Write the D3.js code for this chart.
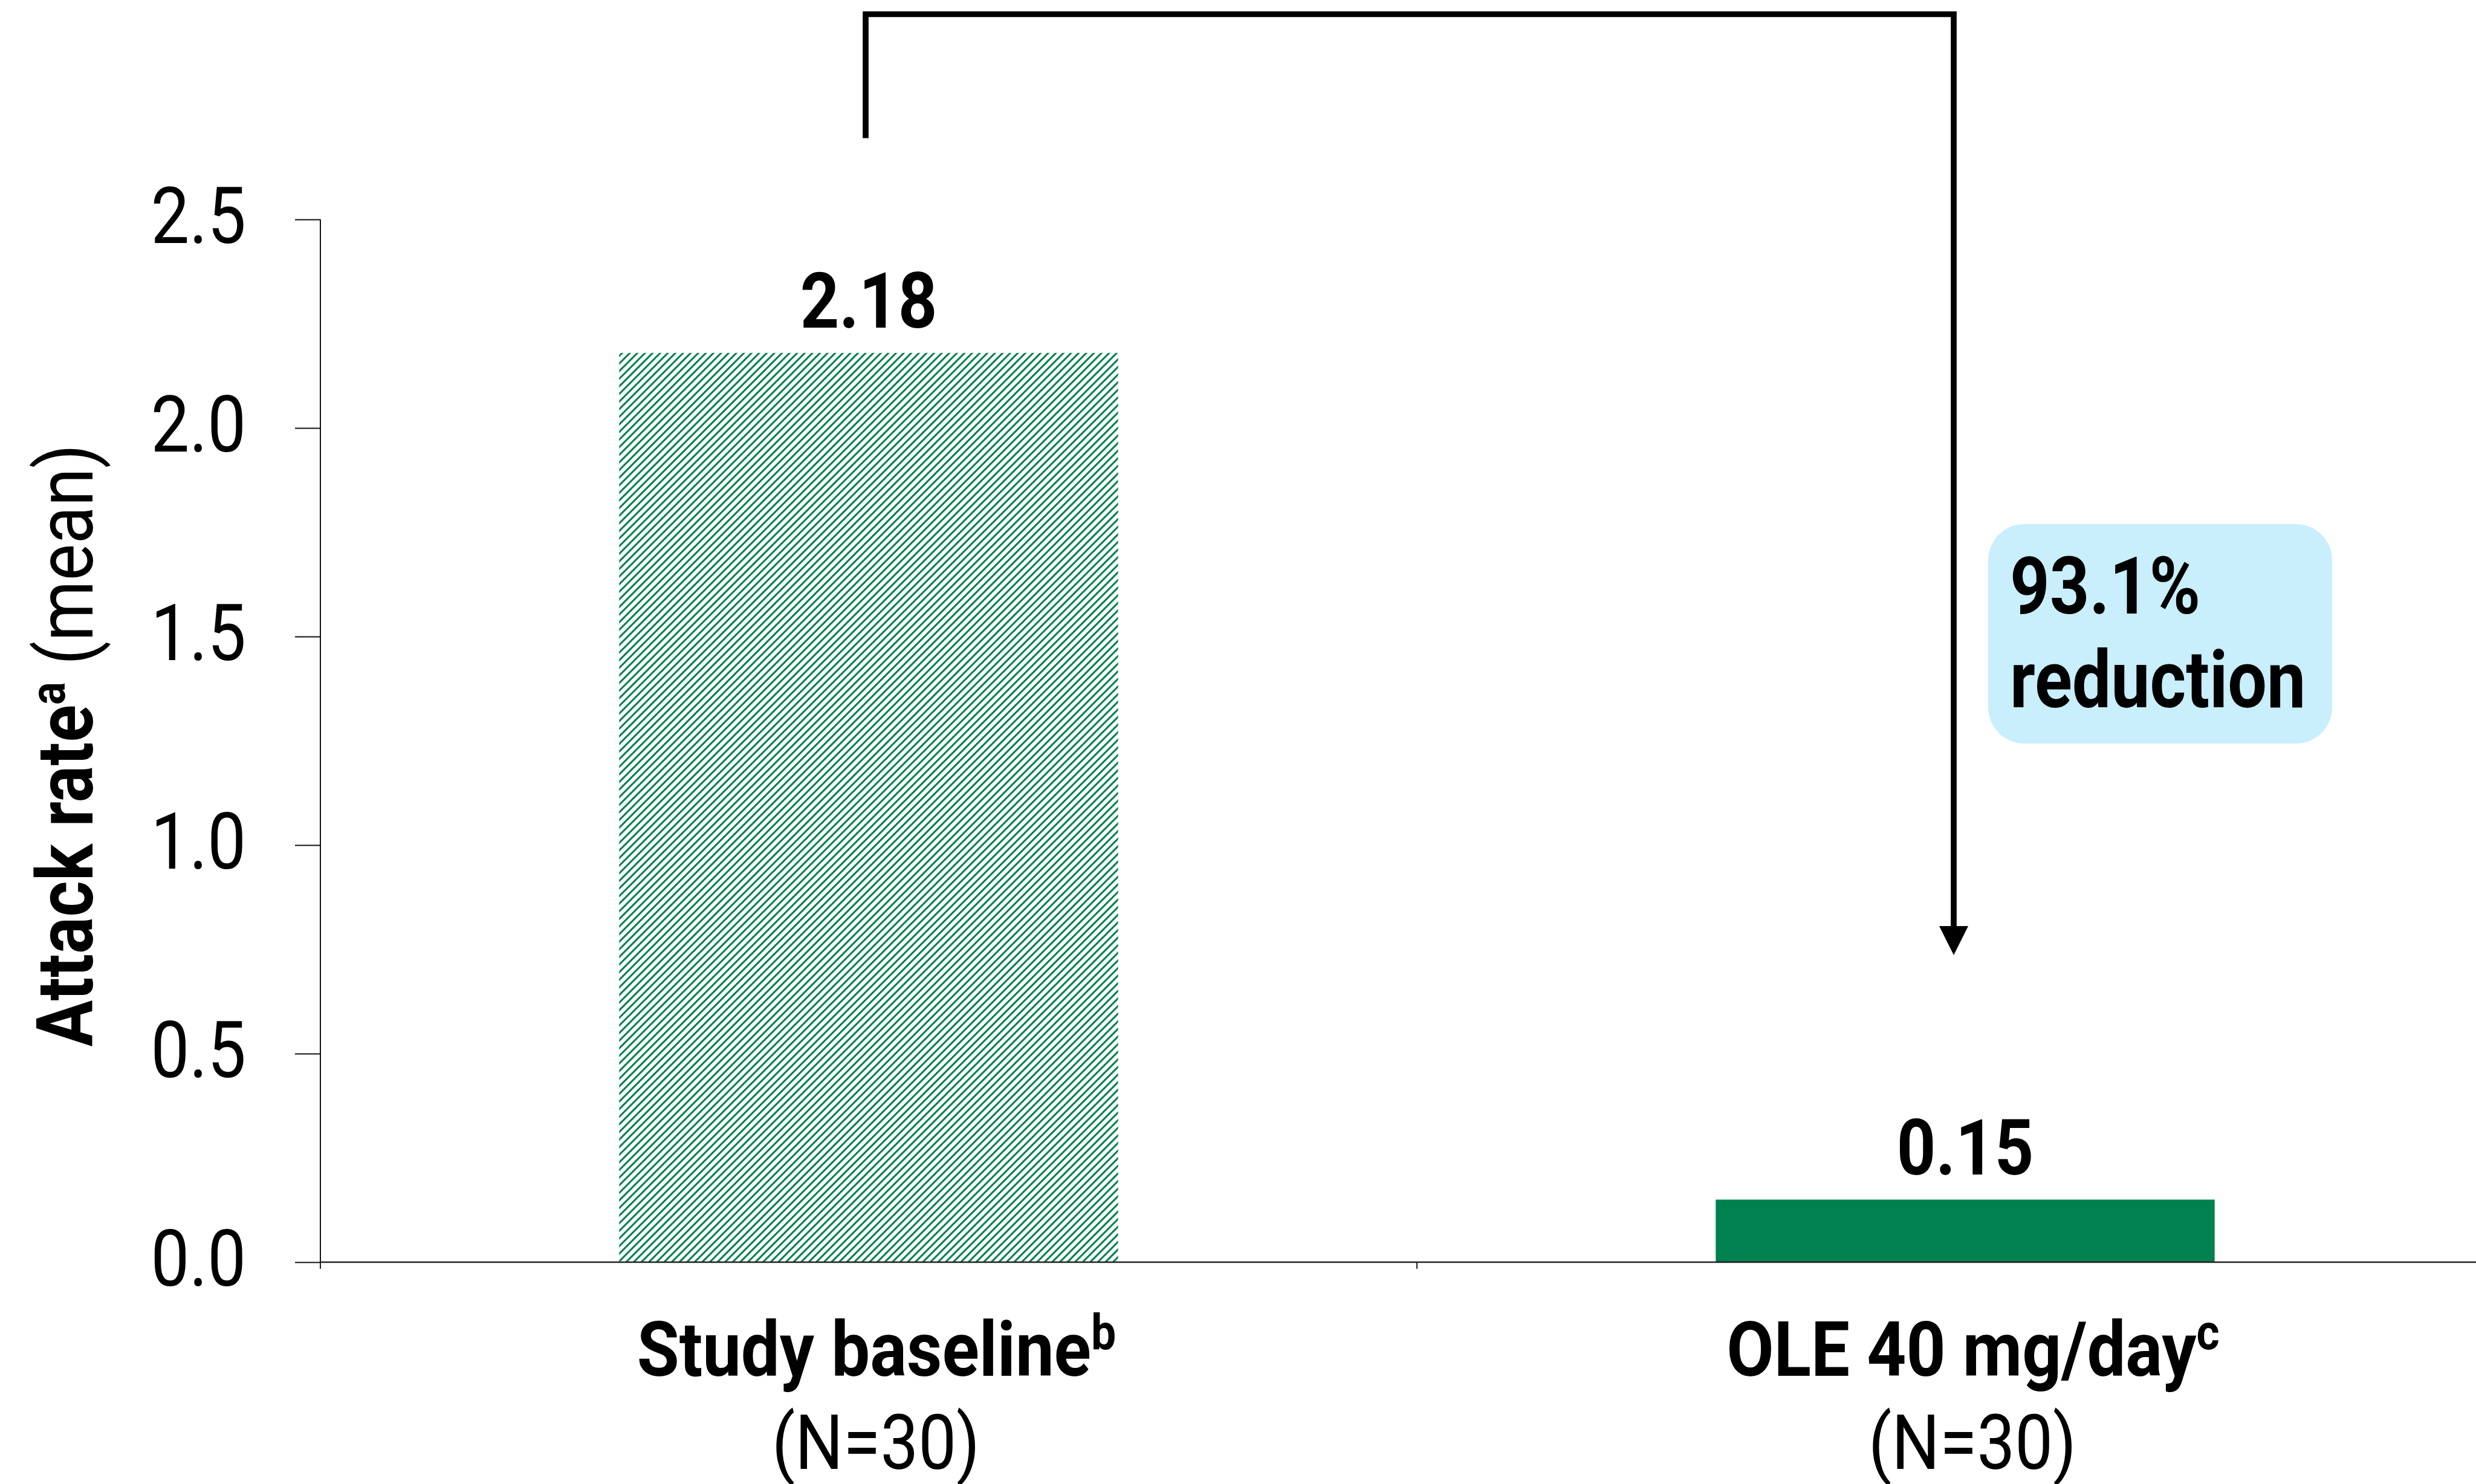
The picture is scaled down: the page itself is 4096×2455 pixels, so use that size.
<!DOCTYPE html>
<html>
<head>
<meta charset="utf-8">
<script src="https://cdn.jsdelivr.net/npm/d3@7"></script>
<style>
  html, body { margin: 0; padding: 0; background: #ffffff; }
  svg { display: block; }
  text { font-family: Roboto, "Noto Sans", sans-serif; fill: #000; }
</style>
</head>
<body>
<svg id="chart" width="4096" height="2455"></svg>
<script>
// ---- data ----
const categories = ["Study baseline", "OLE 40 mg/day"];
const categorySup = ["b", "c"];
const categoryN = ["(N=30)", "(N=30)"];
const values = [2.18, 0.15];
const valueLabels = ["2.18", "0.15"];
const yTicks = [0, 0.5, 1.0, 1.5, 2.0, 2.5];
const yTickLabels = ["0.0", "0.5", "1.0", "1.5", "2.0", "2.5"];
const yTitleBold = "Attack rate";
const yTitleSup = "a";
const yTitleRest = " (mean)";
const reductionText = ["93.1%", "reduction"];

// ---- layout ----
const W = 4096, H = 2455;
const GREEN = "#00814F";
const CX = 0.88; // horizontal condensing of text
const svg = d3.select("#chart");

const x = d3.scaleBand().domain(categories).range([530, 530 + 2 * 1814]).paddingInner(0).paddingOuter(0);
const y = d3.scaleLinear().domain([0, 2.5]).range([2088, 363]);
const barW = x.bandwidth() * 0.455;
const cx = c => x(c) + x.bandwidth() / 2;

// hatch pattern
const defs = svg.append("defs");
const pat = defs.append("pattern")
  .attr("id", "hatch")
  .attr("patternUnits", "userSpaceOnUse")
  .attr("width", 8.9).attr("height", 8.9)
  .attr("patternTransform", "rotate(45)");
pat.append("rect").attr("x", 0).attr("y", 0).attr("width", 8.9).attr("height", 8.9).attr("fill", "#fff");
pat.append("rect").attr("x", 0).attr("y", 0).attr("width", 3.1).attr("height", 8.9).attr("fill", GREEN);

// bars
svg.append("g").selectAll("rect.bar").data(categories).join("rect")
  .attr("class", "bar")
  .attr("x", c => cx(c) - barW / 2)
  .attr("width", barW)
  .attr("y", (c, i) => y(values[i]))
  .attr("height", (c, i) => y(0) - y(values[i]))
  .attr("fill", (c, i) => i === 0 ? "url(#hatch)" : GREEN);

// value labels
svg.append("g").selectAll("text").data(categories).join("text")
  .attr("transform", (c, i) => `translate(${cx(c)},${y(values[i]) - 42}) scale(${CX},1)`)
  .attr("text-anchor", "middle")
  .attr("font-weight", 700)
  .attr("font-size", 128)
  .text((c, i) => valueLabels[i]);

// y axis
const yAxis = d3.axisLeft(y).tickValues(yTicks).tickFormat((d, i) => yTickLabels[i]).tickSize(42).tickPadding(0);
const gy = svg.append("g").attr("transform", `translate(${x.range()[0]},0)`).call(yAxis);
gy.select(".domain").remove();
gy.selectAll(".tick line").attr("stroke", "#111").attr("stroke-width", 2);
gy.selectAll(".tick text").remove();
gy.selectAll(".tick").append("text")
  .attr("transform", `translate(-123,38) scale(${CX},1)`)
  .attr("text-anchor", "end")
  .attr("font-size", 129)
  .attr("font-weight", 400)
  .text((d, i) => yTickLabels[i]);
svg.append("line")
  .attr("x1", x.range()[0]).attr("x2", x.range()[0])
  .attr("y1", y(2.5)).attr("y2", y(0) + 11)
  .attr("stroke", "#111").attr("stroke-width", 2);

// x axis line + boundary ticks
svg.append("line")
  .attr("x1", x.range()[0] - 1).attr("x2", W)
  .attr("y1", y(0)).attr("y2", y(0))
  .attr("stroke", "#222").attr("stroke-width", 2.6);
svg.append("g").selectAll("line").data(categories).join("line")
  .attr("x1", c => x(c)).attr("x2", c => x(c))
  .attr("y1", y(0)).attr("y2", y(0) + 11)
  .attr("stroke", "#222").attr("stroke-width", 2);

// category labels
const catG = svg.append("g");
categories.forEach((c, i) => {
  const t = catG.append("text")
    .attr("transform", `translate(${cx(c) + 13},2276) scale(0.895,1)`)
    .attr("text-anchor", "middle")
    .attr("font-size", 127);
  t.append("tspan").attr("font-weight", 700).text(c);
  t.append("tspan").attr("font-weight", 700).attr("font-size", 82).attr("dy", -44).text(categorySup[i]);
  catG.append("text")
    .attr("transform", `translate(${cx(c) + 12},2430) scale(${CX},1)`)
    .attr("text-anchor", "middle")
    .attr("font-size", 127)
    .attr("font-weight", 400)
    .text(categoryN[i]);
});

// y axis title
const yt = svg.append("text")
  .attr("transform", `translate(153,1233) rotate(-90) scale(${CX},1)`)
  .attr("text-anchor", "middle")
  .attr("font-size", 130);
yt.append("tspan").attr("font-weight", 700).text(yTitleBold);
yt.append("tspan").attr("font-weight", 700).attr("font-size", 80).attr("dy", -46).text(yTitleSup);
yt.append("tspan").attr("font-weight", 400).attr("dy", 46).text(yTitleRest);

// bracket arrow annotation
const lx = cx(categories[0]) - 5;
const rx = cx(categories[1]) - 19;
const topY = 23.5, leftBottom = 228.6, shaftEnd = 1534, tipY = 1580, headHalf = 24;
svg.append("path")
  .attr("d", `M${lx},${leftBottom} L${lx},${topY} L${rx},${topY} L${rx},${shaftEnd}`)
  .attr("fill", "none").attr("stroke", "#000").attr("stroke-width", 9.7)
  .attr("stroke-linejoin", "miter").attr("stroke-linecap", "butt");
svg.append("path")
  .attr("d", `M${rx - headHalf},${tipY - 48} L${rx + headHalf},${tipY - 48} L${rx},${tipY} Z`)
  .attr("fill", "#000");

// reduction box
svg.append("rect")
  .attr("x", 3289).attr("y", 867).attr("width", 569).attr("height", 363)
  .attr("rx", 60).attr("ry", 60)
  .attr("fill", "#C9EEFC");
svg.append("text")
  .attr("transform", `translate(3325,1015) scale(0.875,1)`)
  .attr("font-size", 131).attr("font-weight", 700)
  .text(reductionText[0]);
svg.append("text")
  .attr("transform", `translate(3325,1170) scale(0.875,1)`)
  .attr("font-size", 131).attr("font-weight", 700)
  .text(reductionText[1]);
</script>
</body>
</html>
